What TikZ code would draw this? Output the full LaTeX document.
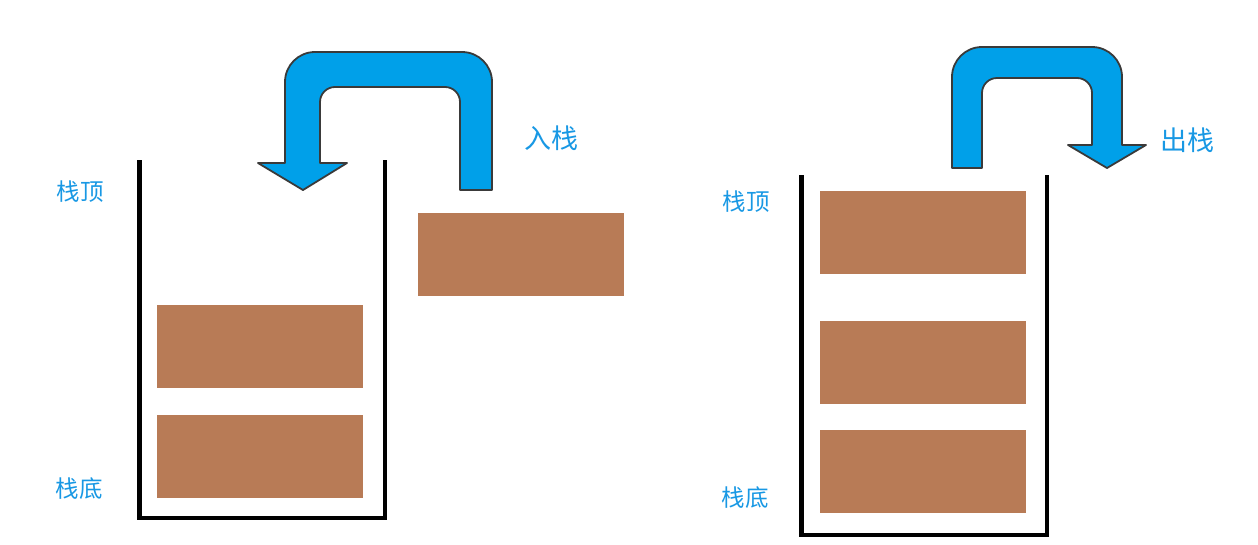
\documentclass[tikz,border=0pt]{standalone}
\usepackage{fontspec}
\newfontfamily\cjk{Noto Sans CJK SC}
\definecolor{boxbrown}{RGB}{184,123,86}
\definecolor{arrowblue}{RGB}{0,160,233}
\definecolor{textblue}{RGB}{24,152,228}
\definecolor{arrowedge}{RGB}{58,58,58}
\tikzset{
  brick/.style={fill=boxbrown, draw=none, inner sep=0pt, minimum width=206pt, minimum height=83pt},
  wall/.style={draw=black, line width=4.5pt, line join=miter},
  bigarrow/.style={fill=arrowblue, draw=arrowedge, line width=1.8pt, line join=round},
  lbl/.style={text=textblue, font=\cjk\fontsize{23.5}{25}\selectfont, inner sep=0pt},
  oplbl/.style={text=textblue, font=\cjk\fontsize{27}{29}\selectfont, inner sep=0pt}
}
\begin{document}
\begin{tikzpicture}[x=1pt, y=-1pt]
\useasboundingbox (0,0) rectangle (1258,544);
% left stack container
\draw[wall] (139.5,160) -- (139.5,518) -- (385,518) -- (385,160);
% right stack container
\draw[wall] (801.5,175) -- (801.5,535) -- (1047,535) -- (1047,175);
% bricks
\node[brick] (L1) at (260,346.5) {};
\node[brick] (L2) at (260,456.5) {};
\node[brick] (F) at (521,254.5) {};
\node[brick] (R1) at (923,232.5) {};
\node[brick] (R2) at (923,362.5) {};
\node[brick] (R3) at (923,471.5) {};
% push arrow
\draw[bigarrow] (492,190) -- (492,82) .. controls (492,65.4) and (478.6,52) .. (462,52)
  -- (315,52) .. controls (298.4,52) and (285,65.4) .. (285,82)
  -- (285,163) -- (258,163) -- (303,190) -- (347,163) -- (320,163)
  -- (320,102) .. controls (320,93.7) and (326.7,87) .. (335,87)
  -- (445,87) .. controls (453.3,87) and (460,93.7) .. (460,102)
  -- (460,190) -- cycle;
% pop arrow
\draw[bigarrow] (952,168) -- (952,77) .. controls (952,60.4) and (965.4,47) .. (982,47)
  -- (1092,47) .. controls (1108.6,47) and (1122,60.4) .. (1122,77)
  -- (1122,145) -- (1146,145) -- (1107,168) -- (1068,145) -- (1092,145)
  -- (1092,93) .. controls (1092,84.7) and (1085.3,78) .. (1077,78)
  -- (997,78) .. controls (988.7,78) and (982,84.7) .. (982,93)
  -- (982,168) -- cycle;
% labels
\node[lbl] (ltop) at (80,192) {栈顶};
\node[lbl] (lbot) at (79,489) {栈底};
\node[lbl] (rtop) at (746,202) {栈顶};
\node[lbl] (rbot) at (745,498) {栈底};
\node[oplbl] (push) at (551,138) {入栈};
\node[oplbl] (pop) at (1187,140) {出栈};
\end{tikzpicture}
\end{document}
